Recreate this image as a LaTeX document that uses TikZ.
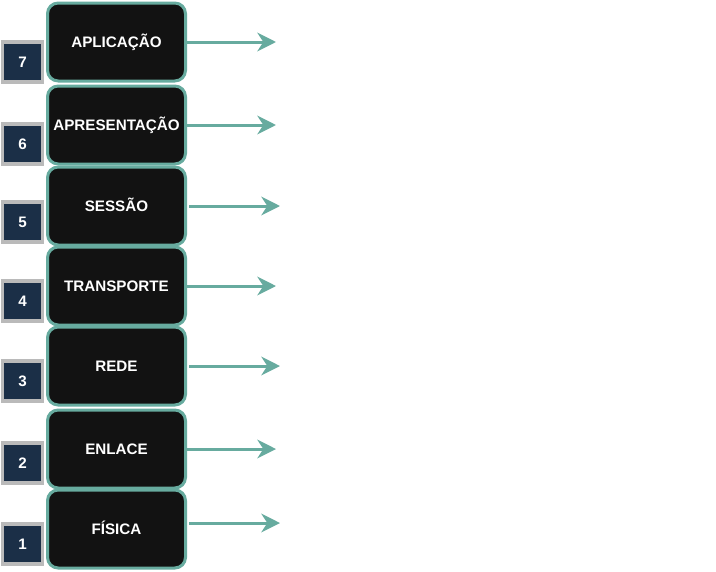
\documentclass[tikz,border=0pt]{standalone}
\usepackage{fontspec}
\setmainfont{Liberation Sans}
\definecolor{osiTeal}{HTML}{67AB9F}
\definecolor{osiBlack}{HTML}{121212}
\definecolor{osiNavy}{HTML}{1B2F47}
\definecolor{osiGray}{HTML}{BABABA}
\usetikzlibrary{arrows.meta}

\begin{document}
\begin{tikzpicture}[x=0.75pt, y=-0.75pt,
  layer/.style={draw=osiTeal, fill=osiBlack, line width=2.25pt, rounded corners=8pt,
    minimum width=103.5pt, minimum height=58.5pt, inner sep=0pt, text=white,
    text height=8pt, text depth=0pt, font=\fontsize{11.4}{13}\selectfont\bfseries},
  num/.style={draw=osiGray, fill=osiNavy, line width=2.4pt, minimum size=30pt,
    inner sep=0pt, text=white, text height=8pt, text depth=0pt,
    font=\fontsize{11.4}{13}\selectfont\bfseries},
  flow/.style={draw=osiTeal, line width=2.25pt, -{Stealth[length=14pt, width=14pt, inset=4.5pt]}},
  gap/.style={shorten <=1.5pt}]
  \useasboundingbox (0,0) rectangle (716,571);
  % Layer numbers
  \node[num] (n7) at (22.5,62) {7};
  \node[num] (n6) at (22.5,144) {6};
  \node[num] (n5) at (22.5,222) {5};
  \node[num] (n4) at (22.5,301) {4};
  \node[num] (n3) at (22.5,381) {3};
  \node[num] (n2) at (22.5,463) {2};
  \node[num] (n1) at (22.5,544) {1};
  % OSI layers
  \node[layer] (l7) at (116.5,42) {APLICAÇÃO};
  \node[layer] (l6) at (116.5,125) {APRESENTAÇÃO};
  \node[layer] (l5) at (116.5,206) {SESSÃO};
  \node[layer] (l4) at (116.5,286) {TRANSPORTE};
  \node[layer] (l3) at (116.5,366) {REDE};
  \node[layer] (l2) at (116.5,449) {ENLACE};
  \node[layer] (l1) at (116.5,529) {FÍSICA};
  % Arrow ends
  \coordinate (t7) at (276,42);
  \coordinate (t6) at (276,125);
  \coordinate (t5) at (280,206);
  \coordinate (t4) at (276,286);
  \coordinate (t3) at (280,366);
  \coordinate (t2) at (276,449);
  \coordinate (t1) at (280,523);
  \draw[flow] (l7.east) -- (t7);
  \draw[flow] (l6.east) -- (t6);
  \draw[flow, gap] (l5.east) -- (t5);
  \draw[flow] (l4.east) -- (t4);
  \draw[flow, gap] (l3.east) -- (t3);
  \draw[flow] (l2.east) -- (t2);
  \draw[flow, gap] (l1.east |- t1) -- (t1);
\end{tikzpicture}
\end{document}
